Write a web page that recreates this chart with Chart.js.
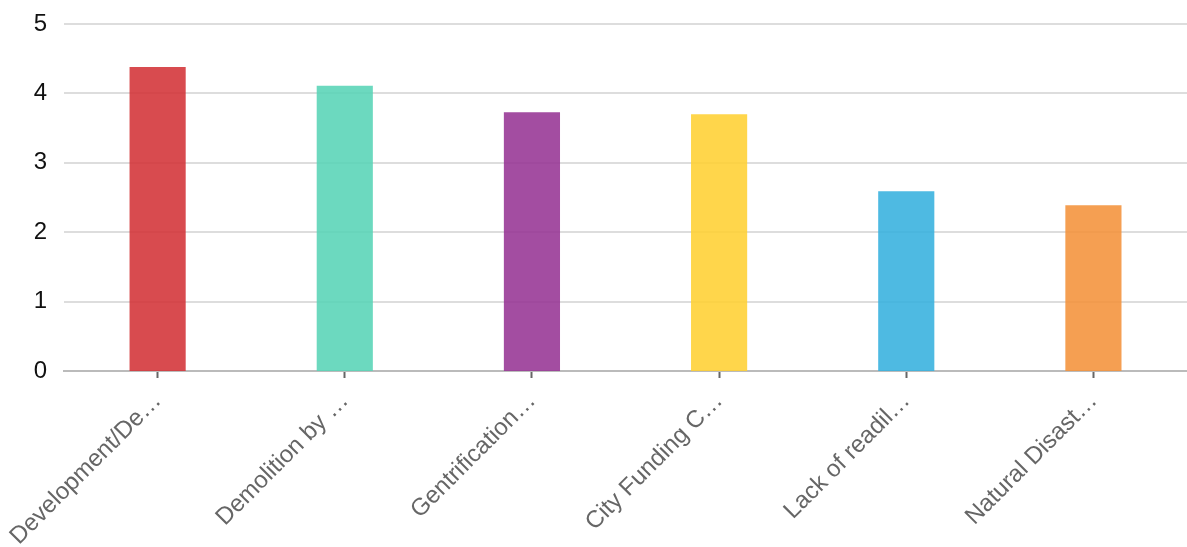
<!DOCTYPE html>
<html>
<head>
<meta charset="utf-8">
<script src="https://cdn.jsdelivr.net/npm/chart.js@4/dist/chart.umd.min.js"></script>
<style>
  html, body { margin: 0; padding: 0; background: #fff; }
  #wrap { width: 1187px; height: 547px; position: relative; }
</style>
</head>
<body>
<div id="wrap"><canvas id="impactChart"></canvas></div>
<script>
const categories = ['Development/De\u2026', 'Demolition by \u2026', 'Gentrification\u2026', 'City Funding C\u2026', 'Lack of readil\u2026', 'Natural Disast\u2026'];
const scores = [4.38, 4.11, 3.73, 3.70, 2.59, 2.39];
const barColors = [
    'rgba(211, 50, 55, 0.88)',
    'rgba(88, 212, 182, 0.88)',
    'rgba(150, 52, 148, 0.88)',
    'rgba(255, 208, 50, 0.88)',
    'rgba(54, 176, 222, 0.88)',
    'rgba(244, 146, 58, 0.88)'
];
const yTicks = [0, 1, 2, 3, 4, 5];

const ctx = document.getElementById('impactChart').getContext('2d');
const impactChart = new Chart(ctx, {
    type: 'bar',
    data: {
        labels: categories,
        datasets: [{
            label: 'Score',
            data: scores,
            backgroundColor: barColors,
            borderWidth: 0,
            base: -0.03,
            barPercentage: 0.3,
            categoryPercentage: 1
        }]
    },
    options: {
        responsive: true,
        maintainAspectRatio: false,
        animation: false,
        layout: { padding: 0 },
        plugins: {
            legend: { display: false },
            tooltip: { enabled: false }
        },
        scales: {
            x: {
                afterFit: axis => { axis.height = 176; },
                grid: {
                    offset: false,
                    drawOnChartArea: false,
                    drawTicks: true,
                    tickLength: 7,
                    tickWidth: 2,
                    tickColor: '#666'
                },
                border: { display: true, color: '#bbb', width: 2 },
                ticks: {
                    minRotation: 45,
                    maxRotation: 45,
                    autoSkip: false,
                    padding: 9,
                    color: '#666',
                    font: { family: '"Liberation Sans", Arial, sans-serif', size: 24 }
                }
            },
            y: {
                min: 0,
                max: 5,
                afterBuildTicks: axis => { axis.ticks = yTicks.map(v => ({ value: v })); },
                afterFit: axis => { axis.width = 63; axis.paddingTop = 24; axis.paddingBottom = 0; },
                grid: { color: '#ddd', lineWidth: 2, drawTicks: false },
                border: { display: false },
                ticks: {
                    padding: 17,
                    color: '#111',
                    font: { family: '"Liberation Sans", Arial, sans-serif', size: 24, lineHeight: 1.0 }
                }
            }
        }
    }
});
</script>
</body>
</html>
